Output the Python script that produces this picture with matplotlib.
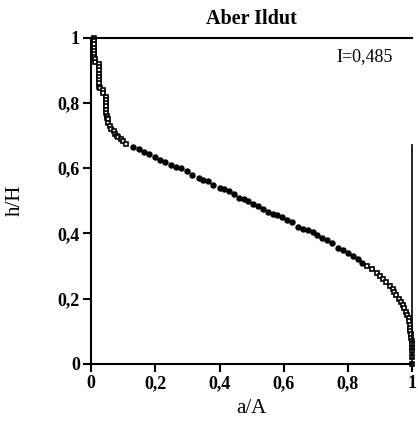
import matplotlib.pyplot as plt

# cumulative hypsometric curve
x = [0.008, 0.008, 0.008, 0.008, 0.008, 0.008, 0.008,
     0.013, 0.013,
     0.024, 0.024, 0.024, 0.024, 0.024, 0.024, 0.026, 0.026, 0.028,
     0.036, 0.036,
     0.046, 0.046, 0.046, 0.046, 0.046, 0.046, 0.048, 0.048,
     0.054, 0.054, 0.06, 0.062,
     0.07, 0.074, 0.08, 0.085, 0.092, 0.1, 0.11,
     0.13, 0.15, 0.165, 0.18, 0.2, 0.215, 0.23, 0.25, 0.265, 0.28,
     0.3, 0.315, 0.336, 0.35, 0.365, 0.38, 0.4, 0.415, 0.43, 0.445,
     0.46, 0.475, 0.49, 0.505, 0.52, 0.535, 0.55, 0.565, 0.58, 0.595,
     0.61, 0.625, 0.645, 0.66, 0.675, 0.69, 0.705, 0.72, 0.735, 0.75,
     0.77, 0.785, 0.8, 0.815, 0.83, 0.845, 0.86, 0.875, 0.89,
     0.9, 0.91, 0.92, 0.93, 0.94, 0.945, 0.95, 0.96, 0.965, 0.97,
     0.975, 0.98, 0.985, 0.99, 0.99, 0.993, 0.993, 0.993, 0.996, 0.996,
     0.998, 0.998, 0.998, 1.0, 1.0, 1.0]
y = [1.0, 0.99, 0.98, 0.97, 0.96, 0.95, 0.94,
     0.935, 0.925,
     0.92, 0.91, 0.90, 0.89, 0.88, 0.87, 0.86, 0.85, 0.845,
     0.84, 0.83,
     0.82, 0.81, 0.80, 0.79, 0.78, 0.77, 0.76, 0.755,
     0.75, 0.74, 0.73, 0.72,
     0.715, 0.705, 0.70, 0.695, 0.69, 0.685, 0.675,
     0.665, 0.66, 0.65, 0.645, 0.635, 0.625, 0.62, 0.61, 0.605, 0.60,
     0.59, 0.58, 0.57, 0.565, 0.56, 0.55, 0.54, 0.535, 0.53, 0.52,
     0.51, 0.505, 0.50, 0.49, 0.485, 0.475, 0.465, 0.46, 0.455, 0.45,
     0.44, 0.435, 0.42, 0.415, 0.41, 0.405, 0.395, 0.385, 0.38, 0.37,
     0.356, 0.35, 0.34, 0.33, 0.32, 0.31, 0.30, 0.29, 0.28,
     0.27, 0.26, 0.25, 0.24, 0.23, 0.22, 0.21, 0.20, 0.19, 0.18,
     0.17, 0.16, 0.15, 0.14, 0.13, 0.12, 0.11, 0.10, 0.09, 0.08,
     0.07, 0.06, 0.05, 0.04, 0.02, 0.0]

xticks = [0, 0.2, 0.4, 0.6, 0.8, 1]
xticklabels = ["0", "0,2", "0,4", "0,6", "0,8", "1"]
yticks = [0, 0.2, 0.4, 0.6, 0.8, 1]
yticklabels = ["0", "0,2", "0,4", "0,6", "0,8", "1"]

plt.rcParams['font.family'] = ['Liberation Serif', 'DejaVu Serif']

fig = plt.figure(figsize=(4.18, 4.25), dpi=100)
ax = fig.add_axes([0.218, 0.144, 0.768, 0.767])

# steep ends drawn as open squares, the sparse middle looks like filled dots
mid = [i for i, v in enumerate(x) if 0.12 < v < 0.85]
ends = [i for i in range(len(x)) if i not in mid]
ax.plot([x[i] for i in ends], [y[i] for i in ends], linestyle='none', marker='s',
        markersize=3.2, markerfacecolor='white', markeredgecolor='black',
        markeredgewidth=1.2, clip_on=False)
ax.plot([x[i] for i in mid], [y[i] for i in mid], linestyle='none', marker='o',
        markersize=3.6, color='black', clip_on=False)

ax.set_xlim(0, 1)
ax.set_ylim(0, 1)
ax.spines['right'].set_visible(False)
for s in ['left', 'bottom', 'top']:
    ax.spines[s].set_linewidth(1.5)
# partial right border as in the original
ax.plot([1, 1], [0, 0.67], color='black', linewidth=1.2, clip_on=False)

ax.set_xticks(xticks)
ax.set_xticklabels(xticklabels, fontsize=13, fontweight='bold')
ax.set_yticks(yticks)
ax.set_yticklabels(yticklabels, fontsize=13, fontweight='bold')
ax.tick_params(direction='out', length=6, width=1.5, pad=2)

ax.set_xlabel("a/A", fontsize=15, labelpad=5)
ax.set_ylabel("h/H", fontsize=15, labelpad=24)
ax.set_title("Aber Ildut", fontsize=14.5, fontweight='bold', pad=10)
ax.text(0.94, 0.942, "I=0,485", fontsize=13, ha='right', va='center',
        transform=ax.transAxes)

plt.savefig("out.png", dpi=100)
